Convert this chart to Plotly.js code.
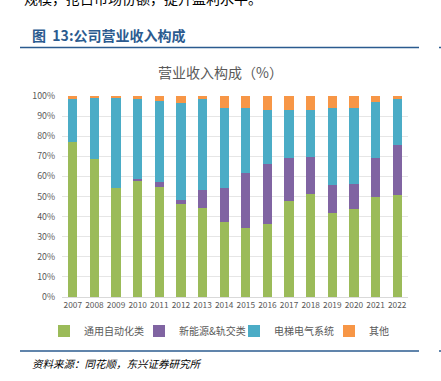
<!DOCTYPE html>
<html><head><meta charset="utf-8">
<script src="https://cdn.plot.ly/plotly-3.0.1.min.js"></script>
<style>html,body{margin:0;padding:0;background:#fff;}#c{width:441px;height:381px;}</style>
</head><body><div id="c"></div>
<script>
const years = ['2007','2008','2009','2010','2011','2012','2013','2014','2015','2016','2017','2018','2019','2020','2021','2022'];
const seriesNames = ['通用自动化类','新能源&轨交类','电梯电气系统','其他'];
// segment values (%)
const general = [77.3,68.5,54.4,57.5,54.7,46.4,44.3,37.1,34.3,36.5,47.9,51.2,41.8,43.6,49.8,50.9];
const newEnergy = [0,0,0,1.4,2.5,1.9,8.9,17.0,27.2,29.7,21.4,18.5,13.8,12.6,19.5,24.9];
const elevator = [21.2,30.5,44.8,39.4,40.5,48.1,45.3,39.8,32.5,26.7,23.6,23.3,38.3,37.8,27.9,22.9];
const other = [1.5,1.0,0.8,1.7,2.3,3.6,1.5,6.1,6.0,7.1,7.1,7.0,6.1,6.0,2.8,1.3];
const colors = ['#9bbb59','#8064a2','#4bacc6','#f79646'];
const yTicks = [0,10,20,30,40,50,60,70,80,90,100];

const L=62,R=408,T=96,B=297,W=441,H=381;
const px=x=>(x-L)/(R-L), py=y=>(B-y)/(B-T);
const font = 'Noto Sans CJK SC, Open Sans, sans-serif';

const data=[general,newEnergy,elevator,other].map((v,i)=>({
  type:'bar', x:years, y:v, name:seriesNames[i], marker:{color:colors[i]}, hoverinfo:'none'
}));

const layout={
  width:W,height:H,margin:{l:L,r:W-R,t:T,b:H-B,pad:0},
  barmode:'stack',bargap:0.57,showlegend:true,
  paper_bgcolor:'#fff',plot_bgcolor:'#fff',
  font:{family:font,color:'#595959',size:9},
  xaxis:{type:'category',showgrid:false,showline:true,linecolor:'#d9d9d9',ticks:'',tickfont:{size:8.3,color:'#595959'},tickangle:0},
  yaxis:{range:[0,100],tickvals:yTicks,ticktext:yTicks.map(v=>v+'%'),showgrid:true,gridcolor:'#e6e6e6',zeroline:false,showline:false,ticks:'',tickfont:{size:8.8,color:'#595959'},ticklabelstandoff:6},
  legend:{orientation:'h',x:px(44),xanchor:'left',y:py(331),yanchor:'middle',font:{size:10,color:'#595959'},entrywidth:50,entrywidthmode:'pixels',itemclick:false,traceorder:'normal',bgcolor:'rgba(0,0,0,0)'},
  annotations:[
    {text:'营业收入构成（%）',xref:'paper',yref:'paper',x:px(220),y:py(72),xanchor:'center',yanchor:'middle',showarrow:false,font:{size:14,color:'#595959',family:font}},
    {text:'<b>图  13:公司营业收入构成</b>',xref:'paper',yref:'paper',x:px(30),y:py(35),xanchor:'left',yanchor:'middle',showarrow:false,font:{size:14,color:'#2b5b8f',family:font}},
    {text:'规模，抢占市场份额，提升盈利水平。',xref:'paper',yref:'paper',x:px(22),y:py(-2),xanchor:'left',yanchor:'middle',showarrow:false,font:{size:14,color:'#000',family:font}},
    {text:'<i>资料来源：同花顺，东兴证券研究所</i>',xref:'paper',yref:'paper',x:px(30),y:py(363),xanchor:'left',yanchor:'middle',showarrow:false,font:{size:10.5,color:'#000',family:font}}
  ],
  shapes:[
    {type:'line',xref:'paper',yref:'paper',x0:px(20),x1:px(419),y0:py(47.5),y1:py(47.5),line:{color:'#2b5b8f',width:1.5}},
    {type:'line',xref:'paper',yref:'paper',x0:px(439),x1:px(441),y0:py(47.5),y1:py(47.5),line:{color:'#2b5b8f',width:1.5}},
    {type:'line',xref:'paper',yref:'paper',x0:px(20),x1:px(419),y0:py(351),y1:py(351),line:{color:'#2b5b8f',width:1.5}},
    {type:'line',xref:'paper',yref:'paper',x0:px(439),x1:px(441),y0:py(351),y1:py(351),line:{color:'#2b5b8f',width:1.5}}
  ]
};
Plotly.newPlot('c',data,layout,{staticPlot:true,displayModeBar:false});
</script></body></html>
